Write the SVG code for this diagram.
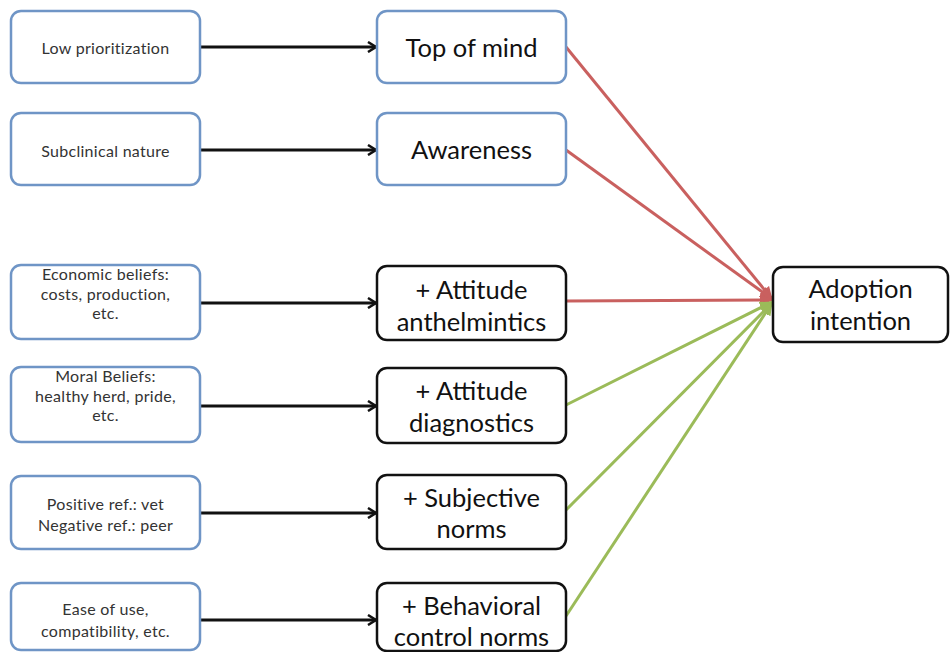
<svg xmlns="http://www.w3.org/2000/svg" width="951" height="652" viewBox="0 0 951 652">
  <style>
    .src { fill: #ffffff; stroke: #6f95c6; stroke-width: 2.5; }
    .mid-b { fill: #ffffff; stroke: #6f95c6; stroke-width: 2.5; }
    .mid-k { fill: #ffffff; stroke: #111111; stroke-width: 2.5; }
    .t-s { font-family: Lato, "Open Sans", sans-serif; font-size: 16px; letter-spacing: 0.3px; fill: #333333; text-anchor: middle; }
    .t-m { font-family: Lato, "Open Sans", sans-serif; font-size: 25.5px; fill: #111111; text-anchor: middle; }
    .blk { stroke: #111111; stroke-width: 3; fill: none; }
    .red { stroke: #c9605f; stroke-width: 3; fill: none; }
    .grn { stroke: #9bbb59; stroke-width: 3; fill: none; }
  </style>
  <defs>
    <marker id="ah-k" markerWidth="12" markerHeight="12" refX="10" refY="6" orient="auto" markerUnits="userSpaceOnUse">
      <path d="M2,1 L10,6 L2,11" fill="none" stroke="#111111" stroke-width="2.5"/>
    </marker>
    <marker id="ah-r" markerWidth="14" markerHeight="14" refX="12" refY="7" orient="auto" markerUnits="userSpaceOnUse">
      <path d="M0,1 L13,7 L0,13 z" fill="#c9605f"/>
    </marker>
    <marker id="ah-g" markerWidth="14" markerHeight="14" refX="12" refY="7" orient="auto" markerUnits="userSpaceOnUse">
      <path d="M0,1 L13,7 L0,13 z" fill="#9bbb59"/>
    </marker>
  </defs>
  <rect width="951" height="652" fill="#ffffff"/>

  <g id="connectors">
    <line class="blk" x1="200" y1="47" x2="376" y2="47" marker-end="url(#ah-k)"/>
    <line class="blk" x1="200" y1="150" x2="376" y2="150" marker-end="url(#ah-k)"/>
    <line class="blk" x1="200" y1="303" x2="376" y2="303" marker-end="url(#ah-k)"/>
    <line class="blk" x1="200" y1="406" x2="376" y2="406" marker-end="url(#ah-k)"/>
    <line class="blk" x1="200" y1="513" x2="376" y2="513" marker-end="url(#ah-k)"/>
    <line class="blk" x1="200" y1="620" x2="376" y2="620" marker-end="url(#ah-k)"/>
    <line class="red" x1="566" y1="47" x2="772" y2="299" marker-end="url(#ah-r)"/>
    <line class="red" x1="566" y1="150" x2="772" y2="299" marker-end="url(#ah-r)"/>
    <line class="red" x1="566" y1="301" x2="772" y2="300" marker-end="url(#ah-r)"/>
    <line class="grn" x1="566" y1="405" x2="772" y2="302" marker-end="url(#ah-g)"/>
    <line class="grn" x1="566" y1="510" x2="772" y2="303" marker-end="url(#ah-g)"/>
    <line class="grn" x1="566" y1="616" x2="772" y2="303" marker-end="url(#ah-g)"/>
  </g>

  <g id="low-prioritization">
    <rect class="src" x="11" y="11" width="189" height="72" rx="10"/>
    <text class="t-s" x="105.5" y="54">Low prioritization</text>
  </g>
  <g id="subclinical-nature">
    <rect class="src" x="11" y="113" width="189" height="72" rx="10"/>
    <text class="t-s" x="105.5" y="157">Subclinical nature</text>
  </g>
  <g id="economic-beliefs">
    <rect class="src" x="11" y="265" width="189" height="74" rx="10"/>
    <text class="t-s" x="105.5" y="280">Economic beliefs:</text>
    <text class="t-s" x="105.5" y="299.5">costs, production,</text>
    <text class="t-s" x="105.5" y="319">etc.</text>
  </g>
  <g id="moral-beliefs">
    <rect class="src" x="11" y="367" width="189" height="75" rx="10"/>
    <text class="t-s" x="105.5" y="382">Moral Beliefs:</text>
    <text class="t-s" x="105.5" y="401.5">healthy herd, pride,</text>
    <text class="t-s" x="105.5" y="421">etc.</text>
  </g>
  <g id="references">
    <rect class="src" x="11" y="476" width="189" height="73" rx="10"/>
    <text class="t-s" x="105.5" y="510">Positive ref.: vet</text>
    <text class="t-s" x="105.5" y="531">Negative ref.: peer</text>
  </g>
  <g id="ease-of-use">
    <rect class="src" x="11" y="583" width="189" height="67" rx="10"/>
    <text class="t-s" x="105.5" y="615">Ease of use,</text>
    <text class="t-s" x="105.5" y="637">compatibility, etc.</text>
  </g>

  <g id="top-of-mind">
    <rect class="mid-b" x="377" y="11" width="189" height="72" rx="10"/>
    <text class="t-m" x="471.5" y="57">Top of mind</text>
  </g>
  <g id="awareness">
    <rect class="mid-b" x="377" y="113" width="189" height="72" rx="10"/>
    <text class="t-m" x="471.5" y="159">Awareness</text>
  </g>
  <g id="attitude-anthelmintics">
    <rect class="mid-k" x="377" y="266" width="189" height="74" rx="10"/>
    <text class="t-m" x="471.5" y="299">+ Attitude</text>
    <text class="t-m" x="471.5" y="331">anthelmintics</text>
  </g>
  <g id="attitude-diagnostics">
    <rect class="mid-k" x="377" y="368" width="189" height="75" rx="10"/>
    <text class="t-m" x="471.5" y="400">+ Attitude</text>
    <text class="t-m" x="471.5" y="432">diagnostics</text>
  </g>
  <g id="subjective-norms">
    <rect class="mid-k" x="377" y="475" width="189" height="74" rx="10"/>
    <text class="t-m" x="471.5" y="507">+ Subjective</text>
    <text class="t-m" x="471.5" y="538">norms</text>
  </g>
  <g id="behavioral-control-norms">
    <rect class="mid-k" x="377" y="583" width="189" height="68" rx="10"/>
    <text class="t-m" x="471.5" y="615">+ Behavioral</text>
    <text class="t-m" x="471.5" y="646">control norms</text>
  </g>

  <g id="adoption-intention">
    <rect class="mid-k" x="773" y="267" width="175" height="75" rx="10"/>
    <text class="t-m" x="860.5" y="298">Adoption</text>
    <text class="t-m" x="860.5" y="330">intention</text>
  </g>
</svg>
